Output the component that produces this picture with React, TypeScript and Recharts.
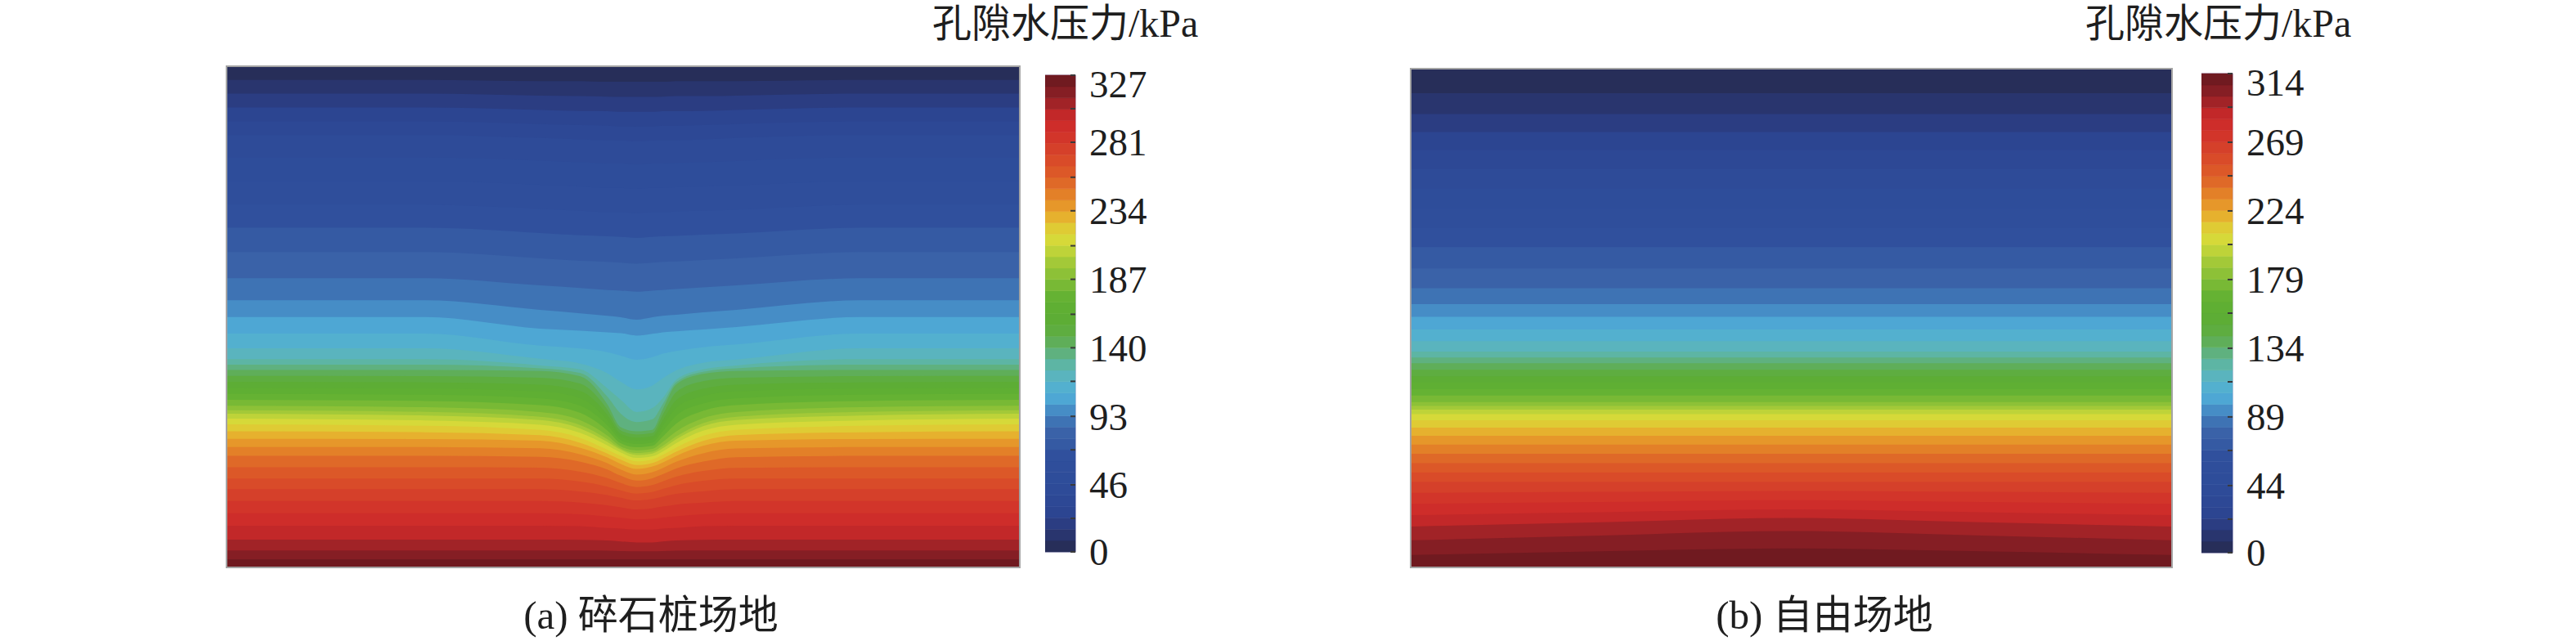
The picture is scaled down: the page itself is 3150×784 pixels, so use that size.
import { Area, AreaChart, Bar, BarChart, ReferenceArea, XAxis, YAxis } from "recharts";

const FONT = "'Liberation Serif', 'Noto Sans CJK SC', serif";
const BANDS = 42;

// (a) 碎石桩场地 — isoline depths (% of model depth) at horizontal stations
const STATIONS_A = [0, 0.25, 0.395, 0.446, 0.48, 0.497, 0.517, 0.537, 0.55, 0.567, 0.601, 0.643, 0.8, 1];
const LEVELS_A = [0, 10, 20, 30, 40, 62, 75, 85, 93, 105, 115, 125, 140, 190, 205, 220, 235, 248, 262, 275, 295, 305, 315, 327];
const DEPTHS_A = [
  [0, 0, 0, 0, 0, 0, 0, 0, 0, 0, 0, 0, 0, 0],
  [3.3, 3.3, 3.6, 3.6, 3.8, 3.8, 3.8, 3.8, 3.8, 3.6, 3.6, 3.6, 3.3, 3.3],
  [6.9, 6.9, 7.4, 7.6, 7.6, 7.7, 7.7, 7.7, 7.6, 7.6, 7.6, 7.4, 6.9, 6.9],
  [10.5, 10.5, 11.0, 11.2, 11.3, 11.5, 11.5, 11.5, 11.3, 11.3, 11.2, 11.0, 10.5, 10.5],
  [14.0, 14.0, 14.6, 14.9, 15.1, 15.1, 15.3, 15.1, 15.1, 15.1, 14.9, 14.6, 14.0, 14.0],
  [27.4, 27.4, 28.2, 28.6, 28.9, 28.9, 29.1, 28.9, 28.9, 28.7, 28.6, 28.4, 27.4, 27.4],
  [35.1, 35.1, 36.3, 36.8, 36.9, 37.1, 37.3, 37.1, 36.9, 36.9, 36.6, 36.3, 35.1, 35.1],
  [41.9, 41.9, 43.3, 43.8, 44.2, 44.3, 44.5, 44.3, 44.2, 44.0, 43.7, 43.3, 41.9, 41.9],
  [46.5, 46.5, 48.4, 49.1, 49.6, 49.9, 50.4, 49.9, 49.6, 49.4, 48.9, 48.4, 46.5, 46.5],
  [51.7, 51.7, 54.2, 54.5, 54.7, 54.8, 55.3, 55.0, 54.7, 54.5, 54.2, 53.7, 51.7, 51.7],
  [55.8, 55.8, 58.1, 59.1, 60.6, 62.2, 63.5, 62.7, 61.4, 60.3, 58.9, 58.3, 55.8, 55.8],
  [58.6, 58.6, 59.8, 60.6, 64.5, 66.8, 69.3, 68.5, 66.5, 62.7, 60.6, 59.8, 58.6, 58.6],
  [60.6, 60.6, 60.8, 61.9, 67.5, 72.1, 72.9, 72.6, 68.5, 63.5, 61.4, 60.8, 60.6, 60.6],
  [68.3, 68.6, 69.6, 71.3, 74.2, 76.2, 77.0, 76.7, 75.5, 73.6, 70.9, 69.6, 68.6, 68.3],
  [69.6, 70.0, 70.9, 72.6, 75.2, 76.7, 77.8, 77.5, 76.5, 74.7, 72.1, 70.9, 70.0, 69.6],
  [71.8, 72.1, 72.9, 74.5, 76.8, 78.0, 79.1, 78.7, 77.8, 76.4, 74.1, 72.9, 72.1, 71.8],
  [74.7, 74.7, 75.0, 76.4, 78.3, 79.6, 80.6, 80.1, 79.3, 78.0, 76.0, 75.0, 74.7, 74.7],
  [77.5, 77.5, 77.7, 78.7, 80.3, 81.6, 82.6, 82.1, 81.3, 80.1, 78.7, 77.8, 77.5, 77.5],
  [81.6, 81.6, 81.6, 82.3, 83.4, 84.2, 84.9, 84.6, 83.9, 83.1, 82.1, 81.6, 81.6, 81.6],
  [85.2, 85.2, 85.2, 85.6, 86.2, 86.7, 87.2, 86.9, 86.5, 86.0, 85.6, 85.2, 85.2, 85.2],
  [91.5, 91.5, 91.5, 91.6, 92.0, 92.1, 92.3, 92.3, 92.1, 92.0, 91.6, 91.5, 91.5, 91.5],
  [95.1, 95.1, 95.1, 95.1, 95.2, 95.4, 95.6, 95.6, 95.4, 95.2, 95.1, 95.1, 95.1, 95.1],
  [97.7, 97.7, 97.7, 97.7, 97.7, 97.7, 97.7, 97.7, 97.7, 97.7, 97.7, 97.7, 97.7, 97.7],
  [100, 100, 100, 100, 100, 100, 100, 100, 100, 100, 100, 100, 100, 100],
];
const MAX_A = 327;
const TICKS_A = [0, 46, 93, 140, 187, 234, 281, 327];
const MARKS_A = [23, 70, 117, 163, 210, 257, 304];

// (b) 自由场地
const STATIONS_B = [0, 0.25, 0.5, 0.75, 1];
const LEVELS_B = [0, 10, 17, 25, 35, 60, 66, 73, 80, 88, 95, 105, 118, 134, 180, 200, 212, 228, 248, 262, 282, 295, 305, 314];
const DEPTHS_B = [
  [0, 0, 0, 0, 0],
  [6.4, 6.4, 6.4, 6.4, 6.4],
  [10.0, 10.0, 10.0, 10.0, 10.0],
  [13.8, 13.8, 13.8, 13.8, 13.8],
  [18.7, 18.7, 18.7, 18.7, 18.7],
  [32.0, 32.0, 32.0, 32.0, 32.0],
  [35.0, 35.0, 35.0, 35.0, 35.0],
  [39.0, 39.0, 39.0, 39.0, 39.0],
  [43.0, 43.0, 43.0, 43.0, 43.0],
  [46.6, 46.6, 46.6, 46.6, 46.6],
  [49.0, 49.0, 49.0, 49.0, 49.0],
  [52.4, 52.4, 52.4, 52.4, 52.4],
  [56.5, 56.5, 56.5, 56.5, 56.5],
  [59.0, 59.0, 59.0, 59.0, 59.0],
  [67.0, 67.0, 67.0, 67.0, 67.0],
  [69.0, 69.0, 69.0, 69.0, 69.0],
  [71.0, 71.0, 71.0, 71.0, 71.0],
  [74.5, 74.5, 74.5, 74.5, 74.5],
  [79.5, 79.5, 79.5, 79.5, 79.5],
  [83.0, 83.0, 83.0, 83.0, 83.0],
  [89.0, 88.5, 88.0, 88.5, 89.0],
  [93.0, 92.0, 91.0, 92.0, 93.0],
  [97.2, 96.3, 95.6, 96.3, 97.2],
  [100, 100, 100, 100, 100],
];
const MAX_B = 314;
const TICKS_B = [0, 44, 89, 134, 179, 224, 269, 314];
const MARKS_B = [22, 67, 112, 157, 202, 247, 292];

// colour scale (fraction of max -> colour)
const COLOR_STOPS: [number, string][] = [
  [0.0, "#262b52"],
  [0.02, "#28305e"],
  [0.05, "#2a3a7c"],
  [0.08, "#2c4590"],
  [0.14, "#2e4c9a"],
  [0.2, "#2f4f9c"],
  [0.22, "#3458a2"],
  [0.25, "#3a62a8"],
  [0.27, "#3d6eb2"],
  [0.28, "#3f7ab8"],
  [0.29, "#4486c2"],
  [0.31, "#4a98cc"],
  [0.32, "#4ea6d4"],
  [0.34, "#52afd0"],
  [0.36, "#55b4cc"],
  [0.37, "#5ab4bc"],
  [0.39, "#5db5a8"],
  [0.42, "#5fb07a"],
  [0.45, "#5fad4a"],
  [0.48, "#5cac36"],
  [0.53, "#60b032"],
  [0.57, "#80bc36"],
  [0.61, "#a6ca38"],
  [0.65, "#d4dc3a"],
  [0.69, "#e4c432"],
  [0.71, "#e8a62c"],
  [0.74, "#e58a28"],
  [0.77, "#e06c28"],
  [0.8, "#dc5628"],
  [0.84, "#d6422a"],
  [0.88, "#d0302a"],
  [0.91, "#cc2a2a"],
  [0.935, "#a82428"],
  [0.955, "#8e2026"],
  [0.975, "#7a1c22"],
  [1.0, "#66181e"],
];

function hexToRgb(h: string) {
  const n = parseInt(h.slice(1), 16);
  return [(n >> 16) & 255, (n >> 8) & 255, n & 255];
}

function colorAt(t: number) {
  for (let k = 0; k < COLOR_STOPS.length - 1; k++) {
    const [t0, c0] = COLOR_STOPS[k];
    const [t1, c1] = COLOR_STOPS[k + 1];
    if (t <= t1) {
      const f = (t - t0) / (t1 - t0);
      const a = hexToRgb(c0);
      const b = hexToRgb(c1);
      const m = a.map((v, i) => Math.round(v + f * (b[i] - v)));
      return `rgb(${m[0]},${m[1]},${m[2]})`;
    }
  }
  return COLOR_STOPS[COLOR_STOPS.length - 1][1];
}

const BAND_COLORS = Array.from({ length: BANDS }, (_, i) => colorAt((i + 0.5) / BANDS));

// depth of value v at station s, by linear interpolation between read isolines
function depthAt(levels: number[], depths: number[][], s: number, v: number) {
  for (let k = 0; k < levels.length - 1; k++) {
    if (v <= levels[k + 1]) {
      const t = (v - levels[k]) / (levels[k + 1] - levels[k]);
      return depths[k][s] + t * (depths[k + 1][s] - depths[k][s]);
    }
  }
  return depths[depths.length - 1][s];
}

function buildRows(stations: number[], levels: number[], depths: number[][], max: number) {
  const step = max / BANDS;
  return stations.map((x, s) => {
    const row: Record<string, any> = { x };
    for (let i = 0; i < BANDS; i++) row[`b${i}`] = [depthAt(levels, depths, s, i * step), 100];
    return row;
  });
}

function ContourPanel({
  stations,
  levels,
  depths,
  max,
  width,
  height,
}: {
  stations: number[];
  levels: number[];
  depths: number[][];
  max: number;
  width: number;
  height: number;
}) {
  const rows = buildRows(stations, levels, depths, max);
  return (
    <AreaChart width={width} height={height} data={rows} margin={{ top: 0, right: 0, bottom: 0, left: 0 }}>
      <XAxis type="number" dataKey="x" domain={[0, 1]} hide />
      <YAxis type="number" domain={[0, 100]} reversed hide allowDataOverflow />
      {BAND_COLORS.map((c, i) => (
        <Area
          key={i}
          dataKey={`b${i}`}
          type="monotone"
          fill={c}
          fillOpacity={1}
          stroke="none"
          dot={false}
          activeDot={false}
          isAnimationActive={false}
        />
      ))}
    </AreaChart>
  );
}

function CbTick(props: any) {
  const { x, y, payload, labels, max } = props;
  const v = payload.value;
  const show = labels.includes(v);
  return (
    <g>
      <line x1={x - 6} x2={x} y1={y} y2={y} stroke="#3a3a3a" strokeWidth={2} />
      {show && (
        <text
          x={x + 17}
          y={y + (v === max ? 11 : 0)}
          dy="0.35em"
          fontSize={47}
          fontFamily={FONT}
          fill="#1e1e1e"
          textAnchor="start"
        >
          {v}
        </text>
      )}
    </g>
  );
}

function ColorBar({
  max,
  ticks,
  marks,
  barWidth,
  barHeight,
}: {
  max: number;
  ticks: number[];
  marks: number[];
  barWidth: number;
  barHeight: number;
}) {
  const step = max / BANDS;
  const row: Record<string, any> = { name: "cb" };
  BAND_COLORS.forEach((_, i) => (row[`b${i}`] = step));
  const allTicks = [...ticks, ...marks].sort((a, b) => a - b);
  return (
    <BarChart
      width={barWidth + 140}
      height={barHeight + 80}
      data={[row]}
      margin={{ top: 40, right: 0, bottom: 40, left: 0 }}
      barCategoryGap={0}
      barGap={0}
      style={{ overflow: "visible" }}
    >
      <XAxis dataKey="name" hide />
      <YAxis
        orientation="right"
        type="number"
        domain={[0, max]}
        ticks={allTicks}
        interval={0}
        width={140}
        axisLine={false}
        tickLine={false}
        tickSize={0}
        tickMargin={0}
        tick={<CbTick labels={ticks} max={max} />}
      />
      {BAND_COLORS.map((c, i) => (
        <Bar key={i} dataKey={`b${i}`} stackId="cb" fill={c} stroke={c} strokeWidth={0.6} isAnimationActive={false} />
      ))}
      <ReferenceArea y1={0} y2={max} fill="none" stroke="#c4bedd" strokeWidth={1.5} ifOverflow="visible" />
    </BarChart>
  );
}

const textStyle = {
  position: "absolute" as const,
  fontFamily: FONT,
  fontSize: 48,
  lineHeight: "48px",
  color: "#1e1e1e",
  whiteSpace: "nowrap" as const,
};

export default function App() {
  return (
    <div style={{ position: "absolute", left: 0, top: 0, width: 3150, height: 784, background: "#fff", overflow: "hidden" }}>
      {/* (a) */}
      <div style={{ position: "absolute", left: 276, top: 80, border: "2px solid #a4a4a4", lineHeight: 0 }}>
        <ContourPanel stations={STATIONS_A} levels={LEVELS_A} depths={DEPTHS_A} max={MAX_A} width={968} height={611} />
      </div>
      <div style={{ position: "absolute", left: 1278, top: 52 }}>
        <ColorBar max={MAX_A} ticks={TICKS_A} marks={MARKS_A} barWidth={37} barHeight={583} />
      </div>
      <div style={{ ...textStyle, left: 1140, top: 5 }}>孔隙水压力/kPa</div>
      <div style={{ ...textStyle, fontSize: 49, left: 796, top: 729, transform: "translateX(-50%)" }}>(a) 碎石桩场地</div>

      {/* (b) */}
      <div style={{ position: "absolute", left: 1724, top: 83, border: "2px solid #a4a4a4", lineHeight: 0 }}>
        <ContourPanel stations={STATIONS_B} levels={LEVELS_B} depths={DEPTHS_B} max={MAX_B} width={929} height={608} />
      </div>
      <div style={{ position: "absolute", left: 2692, top: 50 }}>
        <ColorBar max={MAX_B} ticks={TICKS_B} marks={MARKS_B} barWidth={38} barHeight={586} />
      </div>
      <div style={{ ...textStyle, left: 2550, top: 5 }}>孔隙水压力/kPa</div>
      <div style={{ ...textStyle, fontSize: 49, left: 2231, top: 729, transform: "translateX(-50%)" }}>(b) 自由场地</div>
    </div>
  );
}
